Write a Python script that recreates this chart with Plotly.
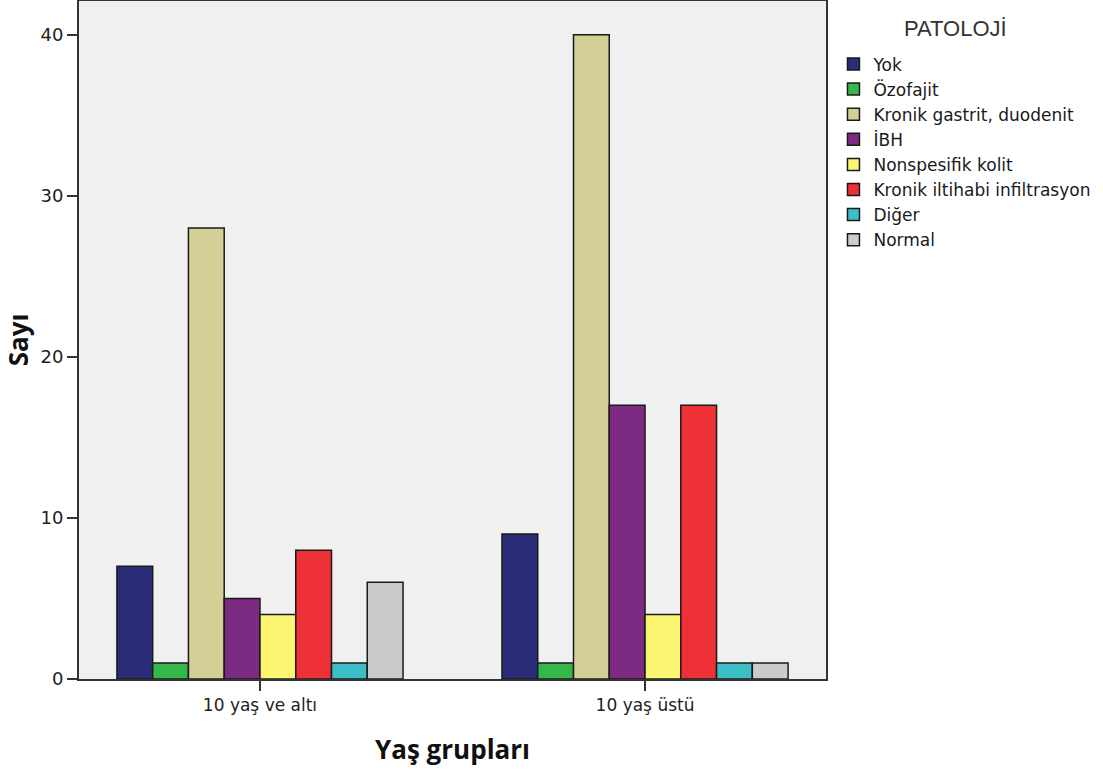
import plotly.graph_objects as go

groups = ["10 yaş ve altı", "10 yaş üstü"]
series_names = ["Yok", "Özofajit", "Kronik gastrit, duodenit", "İBH",
                "Nonspesifik kolit", "Kronik iltihabi infiltrasyon", "Diğer", "Normal"]
values_10_alti = [7, 1, 28, 5, 4, 8, 1, 6]
values_10_ustu = [9, 1, 40, 17, 4, 17, 1, 1]
colors = ["#2a2c78", "#35b84a", "#d4cf97", "#7d2a83", "#fbf571",
          "#ee3037", "#3dbec6", "#cbcbcb"]

fig = go.Figure()
for i, name in enumerate(series_names):
    fig.add_trace(go.Bar(
        name=name,
        x=groups,
        y=[values_10_alti[i], values_10_ustu[i]],
        marker=dict(color=colors[i], line=dict(color="#1a1a1a", width=1.5)),
    ))

fig.add_annotation(
    text="PATOLOJİ", xref="paper", yref="paper", x=1.174, y=0.960,
    xanchor="center", yanchor="middle", showarrow=False,
    font=dict(family="Liberation Sans, Arial", size=22, color="#333333"),
)

fig.update_layout(
    width=1103, height=771,
    margin=dict(l=79, r=277, t=1, b=92, autoexpand=False),
    paper_bgcolor="white",
    plot_bgcolor="#f0f0f0",
    barmode="group",
    bargap=0.257,
    bargroupgap=0,
    font=dict(family="DejaVu Sans", size=18, color="#222222"),
    showlegend=True,
    legend=dict(
        x=1.01, y=0.933, xanchor="left", yanchor="top",
        bgcolor="rgba(0,0,0,0)",
        font=dict(family="DejaVu Sans", size=17, color="#1a1a1a"),
        tracegroupgap=0,
    ),
    xaxis=dict(
        range=[-0.47, 1.47],
        showline=True, linecolor="#333333", linewidth=2, mirror=True,
        ticks="outside", ticklen=10, tickcolor="#333333", tickwidth=2,
        showgrid=False,
        tickfont=dict(family="DejaVu Sans", size=17),
        title=dict(text="<b>Yaş grupları</b>",
                   font=dict(family="Open Sans, Liberation Sans", size=26, color="#111111"),
                   standoff=26),
    ),
    yaxis=dict(
        range=[0, 42.1],
        tickvals=[0, 10, 20, 30, 40],
        showline=True, linecolor="#333333", linewidth=2, mirror=True,
        ticks="outside", ticklen=10, tickcolor="#333333", tickwidth=2,
        showgrid=False, zeroline=False,
        tickfont=dict(family="DejaVu Sans", size=18),
        title=dict(text="<b>Sayı</b>",
                   font=dict(family="Open Sans, Liberation Sans", size=26, color="#111111"),
                   standoff=8),
    ),
)

fig.write_html("out.html", config={"displayModeBar": False},
               post_script="document.body.style.margin='0';")
